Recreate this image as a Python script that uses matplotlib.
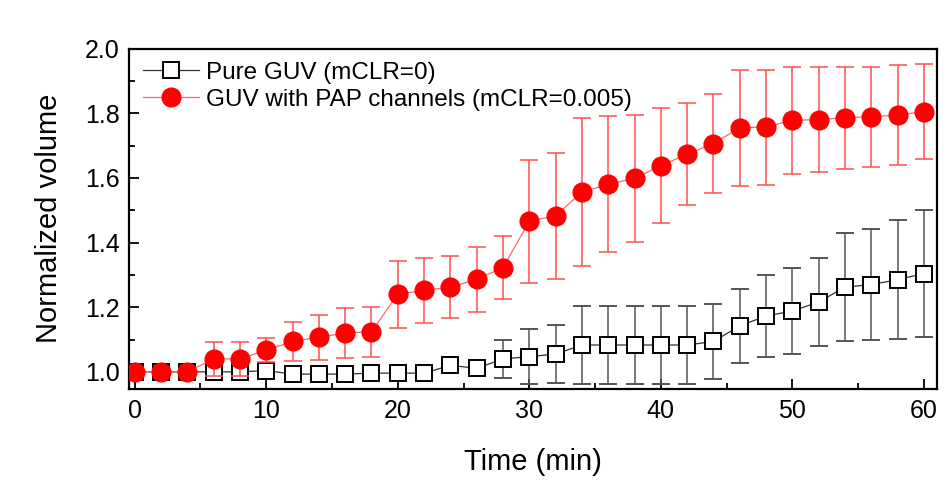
import numpy as np
import matplotlib.pyplot as plt
from matplotlib.ticker import MultipleLocator
from matplotlib.lines import Line2D

plt.rcParams['font.family'] = ['Liberation Sans', 'DejaVu Sans']

# time points (min)
time = list(range(0, 62, 2))

# pure GUV (mCLR=0)
pure = [1.0, 1.0, 1.0, 1.0, 1.0, 1.004, 0.993, 0.993, 0.993, 0.996,
        0.996, 0.996, 1.02, 1.011, 1.04, 1.047, 1.055, 1.083, 1.083, 1.083,
        1.083, 1.083, 1.094, 1.142, 1.173, 1.188, 1.216, 1.262, 1.27, 1.285,
        1.304]
pure_err = [0.008, 0.008, 0.008, 0.008, 0.008, 0.01, 0.005, 0.005, 0.005, 0.01,
            0.012, 0.012, 0.02, 0.01, 0.06, 0.085, 0.09, 0.12, 0.12, 0.12,
            0.12, 0.12, 0.115, 0.114, 0.126, 0.133, 0.137, 0.168, 0.173, 0.184,
            0.196]

# GUV with PAP channels (mCLR=0.005)
pap = [1.0, 1.0, 1.0, 1.04, 1.04, 1.067, 1.094, 1.107, 1.12, 1.124,
       1.24, 1.252, 1.262, 1.286, 1.322, 1.466, 1.483, 1.556, 1.58, 1.598,
       1.638, 1.673, 1.706, 1.755, 1.757, 1.778, 1.78, 1.786, 1.789, 1.794,
       1.805]
pap_err = [0.01, 0.01, 0.01, 0.052, 0.052, 0.038, 0.06, 0.07, 0.078, 0.078,
           0.103, 0.101, 0.095, 0.101, 0.097, 0.19, 0.195, 0.23, 0.21, 0.197,
           0.178, 0.157, 0.153, 0.18, 0.178, 0.165, 0.163, 0.158, 0.155, 0.154,
           0.146]

labels = ['Pure GUV (mCLR=0)', 'GUV with PAP channels (mCLR=0.005)']

fig = plt.figure(figsize=(9.52, 4.93), dpi=100)
ax = fig.add_axes([0.136, 0.211, 0.8483, 0.6906])

ax.errorbar(time, pure, yerr=pure_err, fmt='s-', color='#333333', lw=0.9,
            ms=11, mfc='white', mec='black', mew=1.4,
            ecolor='#555555', elinewidth=1.1, capsize=6.5, capthick=1.1,
            zorder=2)
ax.errorbar(time, pap, yerr=pap_err, fmt='o-', color='#ff6666', lw=0.9,
            ms=13.5, mfc='red', mec='red',
            ecolor='#ff5050', elinewidth=1.1, capsize=6.5, capthick=1.1,
            zorder=3)

ax.set_xlim(-0.4, 61)
ax.set_ylim(0.947, 2.0)
ax.xaxis.set_major_locator(MultipleLocator(10))
ax.xaxis.set_minor_locator(MultipleLocator(5))
ax.yaxis.set_major_locator(MultipleLocator(0.2))
ax.yaxis.set_minor_locator(MultipleLocator(0.1))
ax.yaxis.set_major_formatter(plt.FormatStrFormatter('%.1f'))
ax.tick_params(which='both', direction='in', labelsize=18, width=1.3)
ax.tick_params(which='major', length=7, pad=7)
ax.tick_params(which='minor', length=4)
for s in ax.spines.values():
    s.set_linewidth(1.6)

ax.set_xlabel('Time (min)', fontsize=21, labelpad=18)
ax.set_ylabel('Normalized volume', fontsize=21, labelpad=16)

# legend shows only line + marker, no error bars
handles = [Line2D([], [], color='#333333', lw=0.9, marker='s', ms=11,
                  mfc='white', mec='black', mew=1.4),
           Line2D([], [], color='#ff6666', lw=0.9, marker='o', ms=13.5,
                  mfc='red', mec='red')]
ax.legend(handles, labels, loc='upper left', frameon=False, fontsize=17.5,
          handlelength=2.3, handletextpad=0.3, borderaxespad=0.2,
          labelspacing=0.2, borderpad=0.35)

fig.savefig('out.png', dpi=100)
